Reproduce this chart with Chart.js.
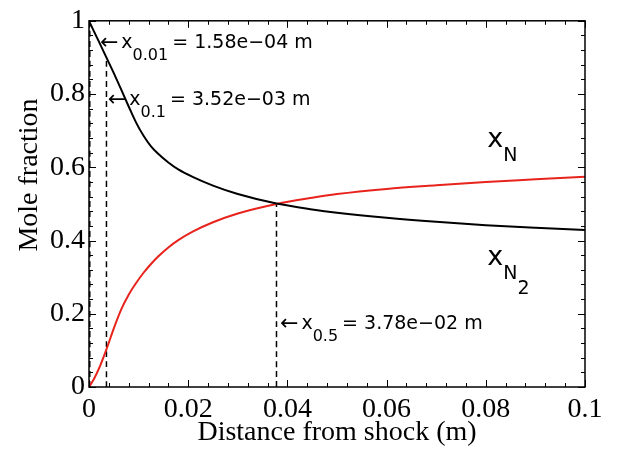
<!DOCTYPE html>
<html>
<head>
<meta charset="utf-8">
<script src="https://cdn.jsdelivr.net/npm/chart.js@4.4.0/dist/chart.umd.min.js"></script>
<style>
    html, body { margin: 0; padding: 0; background: #fff; }
    #wrap { width: 624px; height: 453px; }
</style>
</head>
<body>
<div id="wrap"><canvas id="chart" width="624" height="453"></canvas></div>
<script>
// distance behind the shock (m) and mole fractions
const distance = [0, 0.001, 0.002, 0.0035, 0.005, 0.0065, 0.008, 0.0095, 0.011, 0.0125, 0.014, 0.016, 0.018, 0.021, 0.025, 0.03, 0.0378, 0.045, 0.05, 0.06, 0.07, 0.08, 0.09, 0.1];
const xN  = [1.0, 0.971, 0.943, 0.900, 0.857, 0.812, 0.766, 0.722, 0.686, 0.657, 0.636, 0.613, 0.594, 0.573, 0.550, 0.527, 0.501, 0.485, 0.476, 0.462, 0.451, 0.442, 0.435, 0.429];
const xN2 = [0, 0.022, 0.050, 0.102, 0.160, 0.212, 0.252, 0.284, 0.312, 0.336, 0.357, 0.381, 0.401, 0.425, 0.450, 0.474, 0.500, 0.517, 0.527, 0.541, 0.551, 0.560, 0.567, 0.574];

// marked distances: x_p where the profile has covered (1 - p) of its change
const markNames  = ['0.01', '0.1', '0.5'];
const markDist   = [1.58e-4, 3.52e-3, 3.78e-2];
const markLevel  = [0.99, 0.9, 0.5];
const markValues = ['1.58e\u221204 m', '3.52e\u221203 m', '3.78e\u221202 m'];

const xTicks = [0, 0.02, 0.04, 0.06, 0.08, 0.1];
const yTicks = [0, 0.2, 0.4, 0.6, 0.8, 1];

const serif = '"Liberation Serif", "Times New Roman", serif';
const sans = '"DejaVu Sans", sans-serif';

const toPts = (xs, ys) => xs.map((x, i) => ({ x: x, y: ys[i] }));

const datasets = [
    { data: toPts(distance, xN), borderColor: '#000', borderWidth: 2 },
    { data: toPts(distance, xN2), borderColor: '#e8231c', borderWidth: 2 }
];
markDist.forEach((d, i) => {
    datasets.push({
        data: [{ x: d, y: 0 }, { x: d, y: markLevel[i] }],
        borderColor: '#000', borderWidth: 1.5, borderDash: [6, 4]
    });
});

// frame with inward ticks on all four sides, like matlab
const framePlugin = {
    id: 'frame',
    afterDatasetsDraw(chart) {
        const ctx = chart.ctx;
        const { left, right, top, bottom } = chart.chartArea;
        const xs = chart.scales.x, ys = chart.scales.y;
        ctx.save();
        ctx.strokeStyle = '#000';
        ctx.lineWidth = 1.5;
        ctx.strokeRect(left, top, right - left, bottom - top);
        ctx.lineWidth = 1;
        ctx.beginPath();
        for (let i = 0; i <= 25; i++) {
            const len = i % 5 === 0 ? 7 : 4;
            const px = Math.round(xs.getPixelForValue(i * 0.004)) + 0.5;
            ctx.moveTo(px, bottom); ctx.lineTo(px, bottom - len);
            ctx.moveTo(px, top); ctx.lineTo(px, top + len);
            const py = Math.round(ys.getPixelForValue(i * 0.04)) + 0.5;
            ctx.moveTo(left, py); ctx.lineTo(left + len, py);
            ctx.moveTo(right, py); ctx.lineTo(right - len, py);
        }
        ctx.stroke();
        ctx.restore();
    }
};

// text: y title and the annotations
const labelPlugin = {
    id: 'labels',
    afterDraw(chart) {
        const ctx = chart.ctx;
        const xs = chart.scales.x, ys = chart.scales.y;
        ctx.save();
        ctx.fillStyle = '#000';

        ctx.save();
        ctx.font = '28px ' + serif;
        ctx.textAlign = 'center';
        ctx.textBaseline = 'middle';
        ctx.translate(30, 175);
        ctx.rotate(-Math.PI / 2);
        ctx.fillText('Mole fraction', 0, 0);
        ctx.restore();

        ctx.textAlign = 'left';
        ctx.textBaseline = 'alphabetic';

        // arrow labels, anchored at a point near each curve
        const anchors = [[0.0022, 0.925], [0.0038, 0.77], [0.0385, 0.158]];
        markNames.forEach((name, i) => {
            let x = xs.getPixelForValue(anchors[i][0]);
            const y = ys.getPixelForValue(anchors[i][1]);
            ctx.font = '22px ' + sans;
            ctx.fillText('\u2190', x, y + 1);
            x += ctx.measureText('\u2190').width + 3;
            ctx.font = '19px ' + sans;
            ctx.fillText('x', x, y);
            x += ctx.measureText('x').width;
            ctx.font = '16px ' + sans;
            ctx.fillText(name, x, y + 12);
            x += ctx.measureText(name).width + 4;
            ctx.font = '19px ' + sans;
            ctx.fillText('= ' + markValues[i], x, y);
        });

        // species labels
        const sx = xs.getPixelForValue(0.0803);
        let y1 = ys.getPixelForValue(0.655);
        ctx.font = '27px ' + sans;
        ctx.fillText('x', sx, y1);
        let w = ctx.measureText('x').width;
        ctx.font = '19px ' + sans;
        ctx.fillText('N', sx + w, y1 + 14);

        let y2 = ys.getPixelForValue(0.333);
        ctx.font = '27px ' + sans;
        ctx.fillText('x', sx, y2);
        ctx.font = '19px ' + sans;
        ctx.fillText('N', sx + w, y2 + 14);
        const wn = ctx.measureText('N').width;
        ctx.fillText('2', sx + w + wn, y2 + 29);
        ctx.restore();
    }
};

const fmt = v => String(Number(v.toFixed(3)));

new Chart(document.getElementById('chart'), {
    type: 'line',
    data: { datasets: datasets },
    options: {
        responsive: false,
        animation: false,
        layout: { padding: { top: 14, right: 39, left: 0, bottom: 0 } },
        elements: {
            point: { radius: 0 },
            line: { cubicInterpolationMode: 'monotone', fill: false }
        },
        plugins: { legend: { display: false }, tooltip: { enabled: false } },
        scales: {
            x: {
                type: 'linear', min: 0, max: 0.1,
                afterBuildTicks: s => { s.ticks = xTicks.map(v => ({ value: v })); },
                afterFit: s => { s.height = 66; },
                ticks: { color: '#000', padding: 6, maxRotation: 0, font: { family: serif, size: 28 }, callback: fmt },
                grid: { display: false, drawTicks: false },
                border: { display: false },
                title: { display: true, text: 'Distance from shock (m)', color: '#000', font: { family: serif, size: 28 }, padding: { top: 0, bottom: 4 } }
            },
            y: {
                type: 'linear', min: 0, max: 1,
                afterBuildTicks: s => { s.ticks = yTicks.map(v => ({ value: v })); },
                afterFit: s => { s.width = 89; },
                ticks: { color: '#000', padding: 4, font: { family: serif, size: 28 }, callback: fmt },
                grid: { display: false, drawTicks: false },
                border: { display: false }
            }
        }
    },
    plugins: [framePlugin, labelPlugin]
});
</script>
</body>
</html>
